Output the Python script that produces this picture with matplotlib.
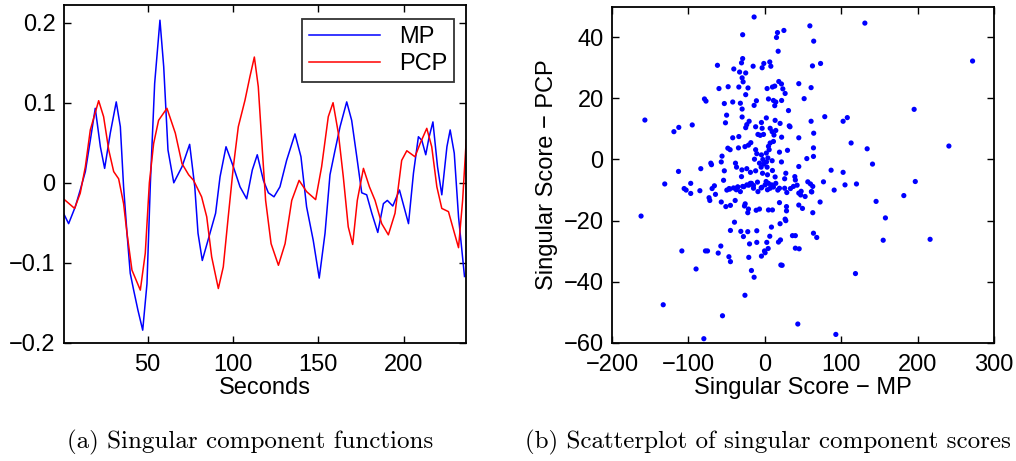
import numpy as np
import matplotlib
matplotlib.use("Agg")
import matplotlib.pyplot as plt

# ===============================================================================
# data

mp_x = [0.7, 3.7, 7.6, 10.5, 13.5, 16.4, 19.3, 22.3, 24.8, 28.1, 31.6, 34, 35.9, 37.9,
        39.8, 41.8, 44.3, 47.1, 49.6, 51.6, 54.1, 57.2, 59.4, 61.9, 65.3, 70.1, 74.6,
        77.6, 79.5, 82, 86.5, 89.8, 92.4, 95.9, 100.2, 104.1, 108, 111.3, 114.2, 117.8,
        120.7, 124, 127.5, 131.4, 136.3, 139.8, 143.1, 147, 150.5, 153.9, 156.8, 159.8,
        162.7, 166.6, 169.5, 172.5, 175.4, 178.3, 181.3, 184.8, 188.1, 190.4, 193.6,
        197.5, 202.8, 205.7, 208.6, 210.6, 212.9, 214.9, 217.1, 219.8, 222.3, 225.3,
        227.2, 229.6, 232.1, 235.6]
mp_y = [-0.038, -0.051, -0.03, -0.009, 0.014, 0.053, 0.093, 0.045, 0.018, 0.062, 0.101,
        0.07, -0.005, -0.063, -0.113, -0.134, -0.159, -0.184, -0.126, 0.0, 0.124, 0.203,
        0.145, 0.041, 0.0, 0.02, 0.048, -0.005, -0.063, -0.097, -0.063, -0.038, 0.0075,
        0.045, 0.02, -0.005, -0.02, 0.016, 0.035, 0.003, -0.0125, -0.0175, -0.005, 0.028,
        0.061, 0.0325, -0.03, -0.072, -0.119, -0.063, 0.01, 0.041, 0.07, 0.101, 0.078,
        0.0325, -0.0125, -0.015, -0.038, -0.062, -0.026, -0.022, -0.029, -0.009, -0.051,
        0.012, 0.0575, 0.053, 0.035, 0.0575, 0.076, 0.02, -0.015, 0.045, 0.066, 0.037,
        -0.0425, -0.117]

pcp_x = [0.7, 7.2, 10.5, 13.5, 16.4, 21.3, 24.2, 27.2, 30.1, 33, 35.9, 37.9, 40.8, 45.7,
         48.6, 51, 53.5, 56.4, 61.3, 66.2, 70.1, 74, 76.9, 81.6, 84.6, 87.5, 91.4, 94.3,
         97.2, 100.2, 103.1, 107, 109.9, 112.5, 114.8, 116.8, 119.1, 122.3, 126.6, 130.5,
         134.4, 138.7, 143.1, 148.4, 151.9, 155.8, 158.6, 161.7, 164.6, 167.5, 170.1,
         172.8, 176.4, 179.9, 183.2, 187.1, 191, 194.9, 198.8, 201.8, 206.6, 209.6, 213.5,
         216.4, 219.4, 222.3, 226.2, 229.2, 232.1, 234.5, 236.6]
pcp_y = [-0.02, -0.032, -0.013, 0.02, 0.066, 0.1025, 0.0825, 0.041, 0.014, 0.005,
         -0.026, -0.063, -0.109, -0.134, -0.088, 0.0, 0.049, 0.078, 0.093, 0.062, 0.024,
         0.01, 0.003, -0.0175, -0.0425, -0.0925, -0.132, -0.105, -0.0425, 0.02, 0.07,
         0.103, 0.1325, 0.157, 0.12, 0.053, -0.022, -0.076, -0.103, -0.076, -0.022, 0.003,
         -0.011, -0.021, 0.02, 0.0825, 0.1, 0.062, 0.0075, -0.055, -0.077, -0.022, 0.018,
         -0.005, -0.022, -0.051, -0.065, -0.038, 0.028, 0.04, 0.0325, 0.049, 0.068, 0.045,
         -0.005, -0.032, -0.036, -0.059, -0.081, -0.022, 0.053]

score_mp = [-14, 131, 59, 25, 16.6, -29, 15.3, 64, 17.5, 272, -29, -30.5, 73, 6.5, -1.3,
            7.9, -3.5, -15.3, -62, 62.4, -40.6, -33, -25, -29.7, -28.4, 18.3, 21.8, 44.5,
            13, 10, 3, 23.6, 60.6, -48, -60, -34, -22, 26.6, 51.5, -25, -79, -77, -11,
            4.8, 11.3, 22, 14.4, 195.5, -42, -53, -32, -14, 13, 31, -29.7, -50, 78.5, 108,
            102.5, -157, -29.7, 2, -20.5, -4.4, 13.5, -51.5, -23.6, 60.6, -95, 20, -112.6,
            -119, -25, -12, 32, 33, -3.5, 7, 14.4, 9.6, 64, -9, -1.7, 12, -6, -42, -34, 22,
            44.5, 113, -18.3, 11.3, 7, 4.8, -21.4, -26, 241, -48.4, -45.4, -34.5, 63.7, 134,
            -12, 5.7, 29.7, 2, -10.5, 19.2, -4.4, -56, 63.7, 55, 4, -13.5, -2.6, 9.6, 2.2,
            -7, -1.3, -70.7, -57, -38.4, 21.8, -69.8, 141, 44.5, -4.8, 3, -23.6, -30, -37,
            -83.8, -12, 10, 86.8, 102.5, -113, -53, -18.8, -3, 3.5, 27.5, 13.5, 39.3, 40,
            -30.5, 26, -54, 76.8, 197, 56.3, 59.8, -97, -131, -9.6, -17.5, 1.7, 4.8, 105,
            120, 42.3, 90.8, 61.5, 182, -105.6, -103, -85, -69, -66, -46.7, -41, -35.3,
            -27.5, -21, -14.8, -4.8, 11.3, 19.2, 33.6, 47.6, -73, -64.6, -97,
            -49.7, -46, -35.6, -37.3, -32, -29, -23.5, -19, -14.8, -9, -3.9, 0.4, 3.5, 7,
            9, 14.4, 17, 26, 28.8, 37.5, 44.5, 47, 52.8, 61, 62.8,
            -162, -72, -57, -51, -45, -38.8, -25.7, -26.6, -21.4, -22.3, -11.3, -7, 4.8,
            10, 19.2, 28.4, 28.4, 49.3, 44.5, 62.8, 72.4, 145.7, 157.9, 26.6, 27.5, -39.7,
            8.7, 20, -45, -31.4, -22.3, -10.5, -28, 6.5, 36.2, 40, 63.7, 68, 155, 216.4,
            -20, -10.5, 2.6, 17.9, 20.5, -108.6, -77.7, -75, -61, -57.6, 4.4, -0.4, 0.4,
            -4.4, 40, 45, -47, -45, -21, -90, -17.5, -14, 21, 22.7, 118.7, -133, -26,
            -55.4, 43.2, -79.8, 93]
score_pcp = [46.6, 44.6, 43.7, 42.2, 41.5, 40.8, 39.9, 38.7, 35.4, 32.2, 33, 31.6, 31.4,
             31.9, 31.4, 30.5, 30, 30.5, 30.8, 30.6, 29.6, 28.6, 28.3, 26.7, 25.4, 25.5,
             24.7, 24.8, 24, 23.7, 23.2, 23.1, 23.5, 23.8, 23.2, 23.7, 23.4, 21.6, 19.9,
             21.2, 19.8, 19.1, 19.2, 19.8, 19.3, 19.3, 18.8, 16.4, 18.8, 18.3, 18.4, 17.7,
             17.6, 16, 16.5, 14.5, 14, 13.7, 12.5, 12.9, 13.9, 13.6, 12.5, 12.1, 12.8, 12,
             11.4, 12.5, 11.3, 11.8, 10.5, 9.1, 10.4, 10.7, 11, 10.7, 10.2, 10.2, 9.5, 9.1,
             8.6, 8.2, 8.2, 8, 7.9, 7.1, 7.5, 7.3, 7.1, 5.4, 5.5, 5.9, 5.4, 4.3, 4.7, 4.2,
             4.4, 3.7, 3.2, 3.8, 3.8, 3.5, 3.2, 3.2, 3, 2.1, 1.9, 2.4, 1.5, 1.1, 1, 0.3,
             0.5, 0.1, 0, -0.4, -0.8, -1.2, -1.5, -1.2, -0.8, -1.2, -0.8, -1.7, -1.5, -2.3,
             -2.5, -2.5, -3, -3.4, -2.5, -3, -3.7, -3.6, -3.5, -4.2, -3.9, -3.7, -4.2, -4.5,
             -5, -4.5, -5.7, -5.6, -6.7, -5.6, -6.3, -6.8, -7.3, -7.2, -7.3, -8, -7.8, -8,
             -7.4, -7.8, -7.2, -7.8, -8.3, -8, -8.4, -10, -10.6, -11.8, -9.5, -10, -10.2,
             -9.5, -8.6, -9.5, -9.3, -9, -8.9, -8.4, -8.5, -9.3, -9, -9.4, -9.5, -10.4,
             -12.5, -11.4, -11.1,
             -10, -9.7, -9, -9.9, -10.5, -8.8, -8.3, -7.8, -9.4, -10.5, -9.1, -8.3, -9.9,
             -9.4, -8.3, -7.8, -10, -9.4, -10.8, -8.8, -11, -11.6, -12.1, -10.5, -8.8,
             -18.5, -13.4, -13.9, -15.4, -15, -13.4, -14.5, -15.2, -16.2, -17.4, -16.6,
             -16.2, -16.5, -16.5, -14.1, -15.4, -16.8, -16, -14.9, -17.4, -13.9, -13.7,
             -19.1, -19.5, -20, -20.5, -22.1, -21, -23.2, -23.5, -23.6, -23.3, -25.2, -25.1,
             -24.9, -24.9, -24.1, -25.5, -26.4, -26.1, -27.6, -27.1, -27.1, -27, -26.3,
             -29.9, -29.9, -29.9, -30.6, -28.3, -29.1, -29.9, -30.5, -31.6, -29, -29.2,
             -31.8, -33.4, -32, -35.8, -36.3, -38.5, -34.5, -34.6, -37.3, -47.5, -44.4,
             -51.1, -53.8, -58.6, -57.2]

# ===============================================================================

plt.rcParams['font.family'] = ['Liberation Sans', 'DejaVu Sans']
plt.rcParams['font.size'] = 17

fig = plt.figure(figsize=(10.16, 4.61), dpi=100)
ax1 = fig.add_axes([0.063, 0.256, 0.3957, 0.7332])
ax2 = fig.add_axes([0.6024, 0.256, 0.3759, 0.7297])

for ax in (ax1, ax2):
    ax.tick_params(direction='in', top=True, right=True, length=5, width=1,
                   labelsize=17, pad=6)
    ax.tick_params(axis='x', pad=8)
    for s in ax.spines.values():
        s.set_linewidth(1.3)

ax1.plot(mp_x, mp_y, c='blue', lw=1.1, label='MP')
ax1.plot(pcp_x, pcp_y, c='red', lw=1.1, label='PCP')
ax1.set_xlim(1, 236.5)
ax1.set_ylim(-0.2, 0.222)
ax1.set_xticks([50, 100, 150, 200])
ax1.set_yticks([-0.2, -0.1, 0, 0.1, 0.2])
ax1.set_yticklabels(['\u22120.2', '\u22120.1', '0', '0.1', '0.2'])
ax1.set_xlabel('Seconds', labelpad=1)
leg = ax1.legend(loc='upper right', bbox_to_anchor=(454 / 1016, 1 - 19 / 461),
                 bbox_transform=fig.transFigure, fancybox=False, edgecolor='black',
                 handlelength=3.0, borderaxespad=0, fontsize=17,
                 borderpad=0.3, labelspacing=0.2)
leg.get_frame().set_linewidth(1.3)

ax2.scatter(score_mp, score_pcp, s=14, c='blue', edgecolors='none')
ax2.set_xlim(-200, 300)
ax2.set_ylim(-60, 50)
ax2.set_xticks([-200, -100, 0, 100, 200, 300])
ax2.set_yticks([-60, -40, -20, 0, 20, 40])
ax2.set_xlabel('Singular Score \u2212 MP', labelpad=1)
ax2.set_ylabel('Singular Score \u2212 PCP', labelpad=4)

fig.text(0.246, 0.04, '(a) Singular component functions', family='cmr10',
         fontsize=18, ha='center', va='center')
fig.text(0.756, 0.04, '(b) Scatterplot of singular component scores', family='cmr10',
         fontsize=18, ha='center', va='center')

fig.savefig('out.png', dpi=100)
